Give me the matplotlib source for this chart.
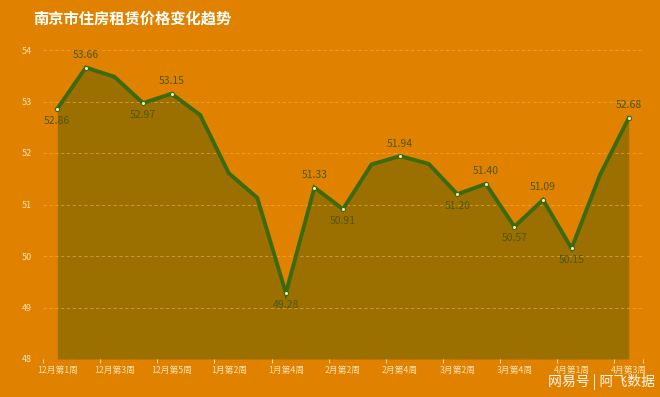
import matplotlib
matplotlib.use("Agg")
import matplotlib.pyplot as plt
import numpy as np

plt.rcParams['font.family'] = ['Noto Sans CJK SC', 'DejaVu Sans']

categories = ["12月第1周", "12月第2周", "12月第3周", "12月第4周", "12月第5周",
              "1月第1周", "1月第2周", "1月第3周", "1月第4周",
              "2月第1周", "2月第2周", "2月第3周", "2月第4周",
              "3月第1周", "3月第2周", "3月第3周", "3月第4周", "3月第5周",
              "4月第1周", "4月第2周", "4月第3周"]
values = [52.86, 53.66, 53.48, 52.97, 53.15, 52.74, 51.61, 51.13, 49.28,
          51.33, 50.91, 51.78, 51.94, 51.79, 51.20, 51.40, 50.57, 51.09,
          50.15, 51.58, 52.68]
# label placement: 1 above, -1 below, 0 none
label_pos = [-1, 1, 0, -1, 1, 0, 0, 0, -1, 1, -1, 0, 1, 0, -1, 1, -1, 1, -1, 0, 1]
title = "南京市住房租赁价格变化趋势"
watermark = "网易号 | 阿飞数据"

BG = "#E08200"
FILL = "#9B7000"
LINE = "#3C6A10"
LABEL = "#4E5710"
PALE = "#F8E3B8"

W, H = 660, 397
fig = plt.figure(figsize=(W / 100, H / 100), dpi=100, facecolor=BG)
ax = fig.add_axes([43 / W, (H - 359) / H, 600 / W, 309 / H], facecolor=BG)

x = np.arange(len(values))
ax.fill_between(x, values, 48, color=FILL, linewidth=0, zorder=1)
ax.plot(x, values, color=LINE, linewidth=2.8, zorder=3, solid_joinstyle='miter')
mask = np.array(label_pos) != 0
ax.scatter(x[mask], np.array(values)[mask],
           s=9, facecolor="#F4F0C8", edgecolor=LINE, linewidth=0.8, zorder=4)

for xi, v, p in zip(x, values, label_pos):
    if p == 0:
        continue
    off = 9 if p > 0 else -8.5
    ax.annotate(f"{v:.2f}", (xi, v), xytext=(0, off), textcoords="offset points",
                ha="center", va="center", fontsize=7.5, fontweight='medium',
                color=LABEL, zorder=5)

ax.set_xlim(-0.5, len(values) - 0.5)
ax.set_ylim(48, 54)

# grid
for gy in range(49, 55):
    ax.axhline(gy, color="#F2B050", linewidth=0.6, linestyle=(0, (4, 3)), alpha=0.7, zorder=2)
ax.axhline(48, color=PALE, linewidth=0.7, linestyle=(0, (4, 3)), zorder=2)

for s in ax.spines.values():
    s.set_visible(False)

ax.set_yticks(range(48, 55))
ax.set_yticklabels([str(t) for t in range(48, 55)], fontsize=6.5, color=PALE)
ax.tick_params(axis='y', length=0, pad=8)

bounds = list(np.arange(-0.5, len(values) - 0.5, 2)) + [len(values) - 0.5]
ax.set_xticks(bounds)
ax.set_xticklabels([])
ax.tick_params(axis='x', which='major', length=3, color=PALE, width=0.7, direction='out')
ax.set_xticks(x[::2], minor=True)
ax.set_xticklabels(categories[::2], minor=True, fontsize=6.3, color=PALE)
ax.tick_params(axis='x', which='minor', length=0, pad=5)

fig.text(33 / W, 1 - 19 / H, title, fontsize=11, fontweight='bold', color="white",
         ha="left", va="center")
fig.text(655 / W, 1 - 382 / H, watermark, fontsize=10, color="white",
         ha="right", va="center", alpha=0.95)

fig.savefig("out.png", dpi=100, facecolor=BG)
